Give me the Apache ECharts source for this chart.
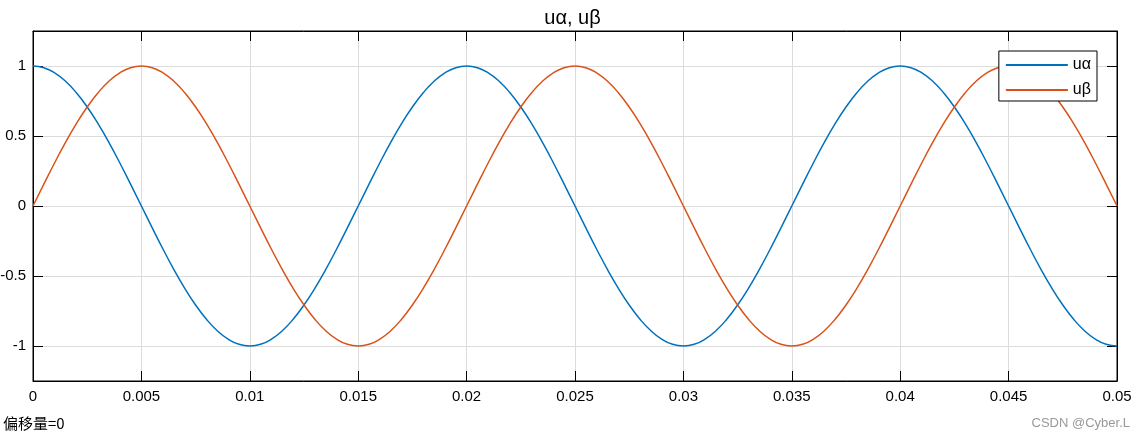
<!DOCTYPE html>
<html>
<head>
<meta charset="utf-8">
<script src="https://cdn.jsdelivr.net/npm/echarts@6/dist/echarts.min.js"></script>
<style>
html,body{margin:0;padding:0;background:#fff;}
#chart{width:1145px;height:438px;}
</style>
</head>
<body>
<div id="chart"></div>
<script>
// time samples (s)
var t = [0,0.0005,0.001,0.0015,0.002,0.0025,0.003,0.0035,0.004,0.0045,
0.005,0.0055,0.006,0.0065,0.007,0.0075,0.008,0.0085,0.009,0.0095,
0.01,0.0105,0.011,0.0115,0.012,0.0125,0.013,0.0135,0.014,0.0145,
0.015,0.0155,0.016,0.0165,0.017,0.0175,0.018,0.0185,0.019,0.0195,
0.02,0.0205,0.021,0.0215,0.022,0.0225,0.023,0.0235,0.024,0.0245,
0.025,0.0255,0.026,0.0265,0.027,0.0275,0.028,0.0285,0.029,0.0295,
0.03,0.0305,0.031,0.0315,0.032,0.0325,0.033,0.0335,0.034,0.0345,
0.035,0.0355,0.036,0.0365,0.037,0.0375,0.038,0.0385,0.039,0.0395,
0.04,0.0405,0.041,0.0415,0.042,0.0425,0.043,0.0435,0.044,0.0445,
0.045,0.0455,0.046,0.0465,0.047,0.0475,0.048,0.0485,0.049,0.0495,0.05];

var uAlpha = [1,0.988,0.951,0.891,0.809,0.707,0.588,0.454,0.309,0.156,
0,-0.156,-0.309,-0.454,-0.588,-0.707,-0.809,-0.891,-0.951,-0.988,
-1,-0.988,-0.951,-0.891,-0.809,-0.707,-0.588,-0.454,-0.309,-0.156,
0,0.156,0.309,0.454,0.588,0.707,0.809,0.891,0.951,0.988,
1,0.988,0.951,0.891,0.809,0.707,0.588,0.454,0.309,0.156,
0,-0.156,-0.309,-0.454,-0.588,-0.707,-0.809,-0.891,-0.951,-0.988,
-1,-0.988,-0.951,-0.891,-0.809,-0.707,-0.588,-0.454,-0.309,-0.156,
0,0.156,0.309,0.454,0.588,0.707,0.809,0.891,0.951,0.988,
1,0.988,0.951,0.891,0.809,0.707,0.588,0.454,0.309,0.156,
0,-0.156,-0.309,-0.454,-0.588,-0.707,-0.809,-0.891,-0.951,-0.988,-1];

var uBeta = [0,0.156,0.309,0.454,0.588,0.707,0.809,0.891,0.951,0.988,
1,0.988,0.951,0.891,0.809,0.707,0.588,0.454,0.309,0.156,
0,-0.156,-0.309,-0.454,-0.588,-0.707,-0.809,-0.891,-0.951,-0.988,
-1,-0.988,-0.951,-0.891,-0.809,-0.707,-0.588,-0.454,-0.309,-0.156,
0,0.156,0.309,0.454,0.588,0.707,0.809,0.891,0.951,0.988,
1,0.988,0.951,0.891,0.809,0.707,0.588,0.454,0.309,0.156,
0,-0.156,-0.309,-0.454,-0.588,-0.707,-0.809,-0.891,-0.951,-0.988,
-1,-0.988,-0.951,-0.891,-0.809,-0.707,-0.588,-0.454,-0.309,-0.156,
0,0.156,0.309,0.454,0.588,0.707,0.809,0.891,0.951,0.988,
1,0.988,0.951,0.891,0.809,0.707,0.588,0.454,0.309,0.156,0];

var seriesNames = ['uα', 'uβ'];
var titleText = 'uα, uβ';
var footText = '偏移量=0';
var markText = 'CSDN @Cyber.L';

function pairs(xs, ys) { return xs.map(function (x, i) { return [x, ys[i]]; }); }

var FONT = 'Liberation Sans, Arial, sans-serif';
var chart = echarts.init(document.getElementById('chart'), null, {renderer: 'canvas'});
function axisCommon() {
  return {
    axisLine: {show: true, onZero: false, lineStyle: {color: '#000', width: 1}},
    axisTick: {show: true, inside: true, length: 10, lineStyle: {color: '#000'}}
  };
}
chart.setOption({
  animation: false,
  backgroundColor: '#fff',
  title: {text: titleText, left: 'center', top: 3,
    textStyle: {fontFamily: FONT, fontSize: 20, fontWeight: 'normal', color: '#000'}},
  grid: {left: 33, right: 28, top: 31, bottom: 57, show: true, borderColor: '#000', borderWidth: 1,
    containLabel: false, outerBoundsMode: 'none'},
  legend: {
    data: seriesNames, orient: 'vertical', right: 48, top: 51,
    padding: [6, 6, 3, 6], itemWidth: 62, itemHeight: 14, itemGap: 9, itemStyle: {opacity: 0},
    backgroundColor: '#fff', borderColor: '#000', borderWidth: 1, borderRadius: 0,
    textStyle: {fontFamily: FONT, fontSize: 16, color: '#000'}
  },
  xAxis: [
    Object.assign({type: 'value', min: 0, max: 0.05, interval: 0.005, position: 'bottom',
      axisLabel: {fontFamily: FONT, fontSize: 15, color: '#000', margin: 8},
      splitLine: {show: true, lineStyle: {color: '#dcdcdc'}}}, axisCommon()),
    Object.assign({type: 'value', min: 0, max: 0.05, interval: 0.005, position: 'top',
      axisLabel: {show: false}, splitLine: {show: false}}, axisCommon())
  ],
  yAxis: [
    Object.assign({type: 'value', min: -1.25, max: 1.25, splitNumber: 5, position: 'left',
      showMinLabel: false, showMaxLabel: false,
      axisLabel: {fontFamily: FONT, fontSize: 15, color: '#000', margin: 7,
        formatter: function (v) { return Math.abs(Math.abs(v) - 1.25) < 1e-9 ? '' : String(v); }},
      splitLine: {show: true, lineStyle: {color: '#dcdcdc'}}}, axisCommon()),
    Object.assign({type: 'value', min: -1.25, max: 1.25, splitNumber: 5, position: 'right',
      axisLabel: {show: false}, splitLine: {show: false}}, axisCommon())
  ],
  series: [
    {name: seriesNames[0], type: 'line', symbol: 'none', smooth: true, data: pairs(t, uAlpha),
      lineStyle: {color: '#0072BD', width: 1.5}, itemStyle: {color: '#0072BD'}},
    {name: seriesNames[1], type: 'line', symbol: 'none', smooth: true, data: pairs(t, uBeta),
      lineStyle: {color: '#D95319', width: 1.5}, itemStyle: {color: '#D95319'}}
  ],
  graphic: [
    {type: 'text', left: 3, top: 416, style: {text: footText, font: '15px "Noto Sans CJK SC", sans-serif', fill: '#000'}},
    {type: 'text', right: 15, top: 417, style: {text: markText, font: '13px ' + FONT, fill: '#999'}}
  ]
});
</script>
</body>
</html>
